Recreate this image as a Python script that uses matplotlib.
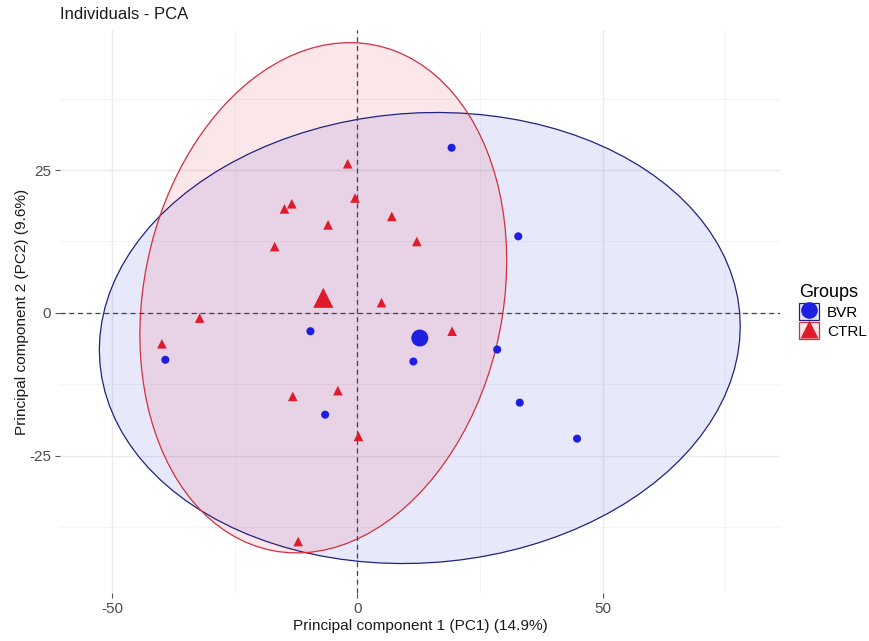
import numpy as np
import matplotlib
matplotlib.use("Agg")
import matplotlib.pyplot as plt
from matplotlib.patches import Polygon, Rectangle
from matplotlib.lines import Line2D

plt.rcParams['font.family'] = ['Liberation Sans', 'DejaVu Sans']

# coordenadas de los individuos
bvr_pc1 = [19.2, -9.6, -39.2, 11.4, -6.6, 32.8, 28.5, 33.1, 44.8]
bvr_pc2 = [28.9, -3.2, -8.2, -8.5, -17.8, 13.4, -6.4, -15.7, -22.0]

ctrl_pc1 = [-2.0, -0.5, -13.4, -14.9, 7.0, -6.0, 12.1, -16.9, 4.9, -32.2,
            19.3, -39.9, -4.0, -13.2, 0.2, -12.1]
ctrl_pc2 = [26.1, 20.1, 19.1, 18.2, 16.9, 15.4, 12.5, 11.6, 1.8, -0.9,
            -3.2, -5.4, -13.6, -14.6, -21.6, -40.0]

grupos = ['BVR', 'CTRL']
colores = ['#1f1fe0', '#e01b2b']
bordes = ['#22227e', '#d0303f']
marcadores = ['o', '^']

xticks = [-50, 0, 50]
yticks = [-25, 0, 25]


def elipse(px, py, level=0.95, segments=101):
    # elipse normal: centro = media, covarianza muestral, radio chi2(2)
    x = np.column_stack([px, py])
    centro = x.mean(axis=0)
    cov = np.cov(x.T)
    radio = np.sqrt(-2 * np.log(1 - level))
    ang = np.linspace(0, 2 * np.pi, segments)
    circ = np.column_stack([np.cos(ang), np.sin(ang)])
    R = np.linalg.cholesky(cov).T
    return centro + radio * (circ @ R)


fig = plt.figure(figsize=(8.69, 6.41), dpi=100)
ax = fig.add_axes([0.069, 0.0749, 0.8286, 0.8783])

datos = [(bvr_pc1, bvr_pc2), (ctrl_pc1, ctrl_pc2)]

for (px, py), col, borde in zip(datos, colores, bordes):
    e = elipse(px, py)
    ax.add_patch(Polygon(e, closed=True, facecolor=col, alpha=0.1, edgecolor='none', zorder=2))
    ax.add_patch(Polygon(e, closed=True, facecolor='none', edgecolor=borde, lw=0.9, zorder=3))

ax.axhline(0, color='#444444', lw=0.9, ls=(0, (4, 3)), zorder=4)
ax.axvline(0, color='#444444', lw=0.9, ls=(0, (4, 3)), zorder=4)

for (px, py), col, m in zip(datos, colores, marcadores):
    ax.scatter(px, py, s=34 if m == 'o' else 48, marker=m, color=col, edgecolor='none', zorder=5)
    ax.scatter(np.mean(px), np.mean(py), s=150 if m == 'o' else 210, marker=m, color=col,
               edgecolor='none', zorder=6)

ax.set_xlim(-60.7, 86.2)
ax.set_ylim(-49.0, 49.5)
ax.set_xticks(xticks)
ax.set_yticks(yticks)
ax.set_xticklabels([str(t) for t in xticks])
ax.set_yticklabels([str(t) for t in yticks])
ax.set_xticks([-25, 25, 75], minor=True)
ax.set_yticks([-37.5, -12.5, 12.5, 37.5], minor=True)
ax.grid(which='major', color='#ebebeb', lw=1.0, zorder=0)
ax.grid(which='minor', color='#f3f3f3', lw=0.6, zorder=0)
ax.set_axisbelow(True)
for s in ax.spines.values():
    s.set_visible(False)
ax.tick_params(which='major', length=3.5, width=0.8, color='#555555', labelcolor='#4d4d4d',
               labelsize=11, pad=3)
ax.tick_params(which='minor', length=0)

ax.set_xlabel('Principal component 1 (PC1) (14.9%)', fontsize=11.1, color='#1a1a1a', labelpad=2)
ax.set_ylabel('Principal component 2 (PC2) (9.6%)', fontsize=11.1, color='#1a1a1a', labelpad=0)
fig.text(0.069, 0.977, 'Individuals - PCA', fontsize=12, color='#1a1a1a', ha='left', va='center')

# leyenda con caja rellena + marcador
handles = []
for col, borde, m in zip(colores, bordes, marcadores):
    caja = Rectangle((0, 0), 1, 1, facecolor=(*matplotlib.colors.to_rgb(col), 0.1),
                     edgecolor=borde, lw=0.9)
    mk = Line2D([], [], marker=m, color=col, ls='none', markersize=12 if m == 'o' else 13,
                markeredgecolor='none')
    handles.append((caja, mk))
leg = ax.legend(handles, grupos, title='Groups', loc='center left', bbox_to_anchor=(1.012, 0.5),
                frameon=False, fontsize=11, title_fontsize=13, handlelength=1.3, handleheight=1.3,
                handletextpad=0.5, labelspacing=0.15, borderaxespad=0.3)
leg._legend_box.align = 'left'

fig.savefig('out.png', dpi=100)
